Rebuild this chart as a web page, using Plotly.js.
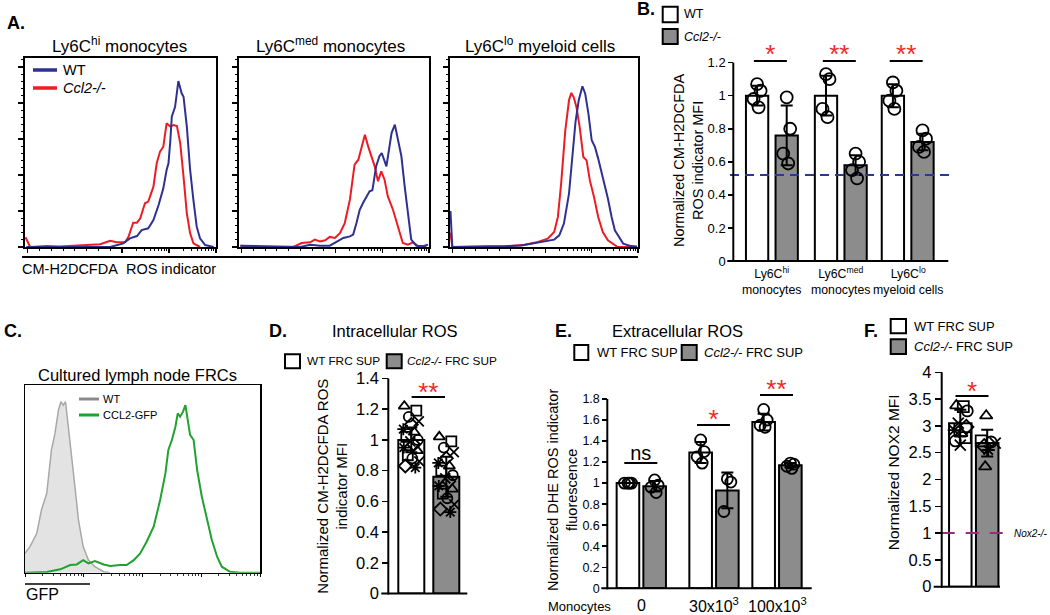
<!DOCTYPE html>
<html>
<head>
<meta charset="utf-8">
<script src="https://cdn.plot.ly/plotly-3.0.1.min.js"></script>
<style>
  html, body { margin: 0; padding: 0; background: #fff; }
  #fig { width: 1050px; height: 615px; }
</style>
</head>
<body>
<div id="fig"></div>
<script>
/* Multi-panel ROS figure (A-F) drawn as one Plotly figure with hand-placed
   axis domains. Data first, then the panels top-left to bottom-right. */

// ---------------------------------------------------------------------------
// A. CM-H2DCFDA histograms. x = log10 fluorescence, y = % of max events
// ---------------------------------------------------------------------------
var HI_WT_X = [0.97, 2.75, 3.03, 3.17, 3.32, 3.42, 3.56, 3.67, 3.78, 3.88, 3.95, 3.99, 4.03, 4.06, 4.13, 4.17, 4.20, 4.27, 4.31, 4.38, 4.45, 4.52, 4.59, 4.66, 4.77, 4.95];
var HI_WT_Y = [0, 0, 2.0, 4.8, 6.1, 9.4, 10.4, 15, 23.3, 32.6, 42.8, 46.5, 59.4, 72.4, 77.9, 87.2, 92.2, 85.4, 83.5, 66.9, 42.8, 26.1, 11.3, 4.8, 1.1, 0];
var HI_KO_X = [0.95, 1.05, 1.40, 1.68, 2.25, 2.54, 2.75, 2.89, 3.07, 3.14, 3.24, 3.32, 3.39, 3.49, 3.56, 3.67, 3.74, 3.81, 3.88, 3.95, 4.03, 4.10, 4.17, 4.24, 4.31, 4.38, 4.45, 4.52, 4.66];
var HI_KO_Y = [5.4, 0, 0.6, 0.3, 1.1, 1.5, 3.5, 2.6, 2.8, 5.7, 13.5, 13.5, 15.9, 24.3, 25.2, 33.5, 46.5, 53, 55.7, 68.7, 66.9, 67.8, 67.2, 57.6, 39, 18.7, 7.6, 2, 0];

var MED_WT_X = [0.97, 1.4, 1.8, 2.25, 2.46, 2.67, 2.88, 3.03, 3.17, 3.31, 3.38, 3.45, 3.52, 3.59, 3.66, 3.73, 3.79, 3.87, 3.94, 3.99, 4.09, 4.15, 4.20, 4.27, 4.34, 4.41, 4.48, 4.55, 4.62, 4.73, 4.87, 4.98];
var MED_WT_Y = [0.7, 0.5, 0.5, 0, 1.3, 0.7, 0.7, 3.1, 5, 5.9, 6.9, 13.3, 20.7, 24.4, 28.1, 30.9, 31.5, 44.8, 50.4, 52.2, 44.8, 54, 63.3, 68, 59.6, 50.4, 33.7, 17, 4.1, 0.7, 0.4, 1.3];
var MED_KO_X = [0.97, 1.39, 2.10, 2.28, 2.46, 2.56, 2.67, 2.78, 2.88, 2.99, 3.10, 3.20, 3.31, 3.41, 3.49, 3.56, 3.63, 3.70, 3.77, 3.84, 3.91, 3.98, 4.05, 4.12, 4.23, 4.34, 4.44, 4.55, 4.66, 4.76, 4.94];
var MED_KO_Y = [0.7, 0, 0, 2.2, 2.6, 4.1, 3.1, 3.7, 5.6, 5, 7.8, 13.3, 26.3, 45.7, 48.5, 55.9, 62.4, 55.9, 50.4, 44.8, 36.5, 42, 37.4, 28.1, 20.7, 11.5, 2.2, 1.3, 2.6, 0.7, 0];

var LO_WT_X = [0.95, 0.99, 1.77, 2.12, 2.48, 2.77, 2.98, 3.19, 3.30, 3.40, 3.51, 3.58, 3.65, 3.72, 3.77, 3.80, 3.86, 3.93, 4.00, 4.07, 4.14, 4.21, 4.28, 4.35, 4.43, 4.50, 4.54, 4.68, 4.85, 4.98];
var LO_WT_Y = [20, 0, 0.4, 0.4, 0.9, 2.2, 2.8, 4.1, 6.5, 13, 29.6, 51.9, 69.4, 81.5, 87, 89.3, 85.2, 74, 59.3, 55.6, 49.1, 41.7, 35.2, 26.9, 16.7, 9.3, 7.6, 1.9, 0.5, 0.3];
var LO_KO_X = [0.95, 0.99, 1.77, 2.12, 2.55, 2.84, 3.05, 3.19, 3.27, 3.34, 3.43, 3.51, 3.56, 3.61, 3.67, 3.74, 3.82, 3.89, 3.96, 4.05, 4.14, 4.24, 4.35, 4.46, 4.56, 4.9];
var LO_KO_Y = [8, 0, 0.2, 0.3, 1.3, 2.8, 4.6, 8.3, 16.7, 35.2, 64.8, 81.5, 85.6, 83.3, 77.8, 66.7, 50, 48.1, 37, 27.8, 16.7, 8.3, 3.7, 1.5, 0, 0];

// ---------------------------------------------------------------------------
// B. normalized CM-H2DCFDA MFI per population
// ---------------------------------------------------------------------------
var B_GROUPS = ["Ly6C<sup>hi</sup><br>monocytes", "Ly6C<sup>med</sup><br>monocytes", "Ly6C<sup>lo</sup><br>myeloid cells"];
var B_WT_MEAN = [1.0, 1.0, 1.0];
var B_WT_SD = [0.06, 0.12, 0.07];
var B_KO_MEAN = [0.76, 0.58, 0.72];
var B_KO_SD = [0.18, 0.06, 0.05];
var B_WT_PTS = [[1.07, 1.03, 0.98, 0.93], [1.13, 1.10, 0.92, 0.87], [1.08, 1.03, 0.97, 0.92]];
var B_KO_PTS = [[0.99, 0.80, 0.65, 0.59], [0.65, 0.60, 0.55, 0.50], [0.79, 0.74, 0.69, 0.66]];
var B_SIG = ["*", "**", "**"];
var B_REF = 0.52;

// ---------------------------------------------------------------------------
// C. GFP histogram of cultured FRCs (x = log10 GFP, y = % of max)
// ---------------------------------------------------------------------------
var C_WT_X = [0, 0.085, 0.2, 0.28, 0.37, 0.45, 0.51, 0.57, 0.61, 0.65, 0.69, 0.74, 0.80, 0.85, 0.91, 0.99, 1.08, 1.19, 1.34, 1.45];
var C_WT_Y = [10.3, 13.9, 21, 33.4, 42.3, 65.4, 74.2, 86.7, 91.1, 89.3, 91.1, 77.8, 61.8, 45.8, 28.1, 13.9, 6.7, 3.2, 0.5, 0];
var C_GFP_X = [0, 0.37, 0.60, 0.77, 0.88, 0.99, 1.08, 1.19, 1.34, 1.45, 1.62, 1.73, 1.85, 1.96, 2.07, 2.19, 2.30, 2.39, 2.44, 2.50, 2.56, 2.60, 2.64, 2.69, 2.73, 2.76, 2.81, 2.87, 2.93, 3.01, 3.10, 3.18, 3.27, 3.35, 3.49, 3.66, 4.0];
var C_GFP_Y = [0, 0.4, 1.8, 4.1, 4.4, 6.7, 5, 6.2, 4.4, 3.6, 4.1, 4.1, 6.7, 10.3, 16.5, 24.5, 38.7, 52.9, 65.4, 70.7, 77.8, 84.9, 83.1, 85.8, 89.3, 84, 73.4, 70.7, 54.7, 40.5, 28.1, 17.4, 8.5, 3.2, 0.5, 0, 0];

// ---------------------------------------------------------------------------
// D. intracellular ROS (WT vs Ccl2-/- FRC supernatant)
// ---------------------------------------------------------------------------
var D_MEAN = [1.0, 0.76];
var D_SD = [0.08, 0.13];
var D_WT_PTS = [1.22, 1.19, 1.15, 1.12, 1.10, 1.07, 1.05, 1.02, 1.00, 0.99, 0.97, 0.95, 0.93, 0.90, 0.88, 0.86, 0.83, 0.82];
var D_KO_PTS = [1.02, 0.99, 0.95, 0.92, 0.88, 0.85, 0.83, 0.80, 0.77, 0.75, 0.73, 0.70, 0.68, 0.65, 0.62, 0.58, 0.55, 0.53];

// ---------------------------------------------------------------------------
// E. extracellular ROS vs number of monocytes
// ---------------------------------------------------------------------------
var E_GROUPS = ["0", "30x10<sup>3</sup>", "100x10<sup>3</sup>"];
var E_WT_MEAN = [1.0, 1.29, 1.58];
var E_WT_SD = [0, 0.10, 0.08];
var E_KO_MEAN = [0.97, 0.93, 1.17];
var E_KO_SD = [0.05, 0.17, 0.02];
var E_WT_PTS = [[1.0, 1.0, 1.0, 1.0], [1.41, 1.30, 1.25, 1.19], [1.70, 1.60, 1.55, 1.53]];
var E_KO_PTS = [[1.03, 0.98, 0.96, 0.91], [1.04, 1.01, 0.73], [1.19, 1.18, 1.16, 1.14]];
var E_SIG = ["ns", "*", "**"];

// ---------------------------------------------------------------------------
// F. NOX2 MFI
// ---------------------------------------------------------------------------
var F_MEAN = [3.05, 2.68];
var F_SD = [0.25, 0.25];
var F_WT_PTS = [3.38, 3.36, 3.28, 3.05, 2.98, 2.92, 2.86, 2.78, 2.72, 2.64];
var F_KO_PTS = [3.19, 2.72, 2.70, 2.68, 2.62, 2.55, 2.24];
var F_NOX2_KO = 1.0;

// ---------------------------------------------------------------------------
var W = 1050, H = 615;
var FONT = "Liberation Sans, Arial, Helvetica, sans-serif";
var BLUE = "#2e3192";
var RED = "#ed1c24";
var STAR = "#ee2a2a";
var GREY = "#8c8c8c";

function fx(px) { return px / W; }
function fy(py) { return 1 - py / H; }
function id(n) { return n === 1 ? "" : String(n); }

var traces = [];
var shapes = [];
var annotations = [];
var layout = {
  width: W, height: H,
  margin: { l: 0, r: 0, t: 0, b: 0 },
  paper_bgcolor: "#fff", plot_bgcolor: "rgba(0,0,0,0)",
  font: { family: FONT, color: "#000" },
  showlegend: false, hovermode: false,
  barmode: "overlay",
};

function text(str, px, py, size, opts) {
  opts = opts || {};
  annotations.push({
    xref: "paper", yref: "paper", x: fx(px), y: fy(py), text: opts.bold ? "<b>" + str + "</b>" : str,
    showarrow: false, xanchor: opts.anchor || "left", yanchor: "middle",
    textangle: opts.angle || 0,
    font: { family: FONT, size: size, color: opts.color || "#000" },
  });
}
function pline(x0, y0, x1, y1, color, width, dash) {
  shapes.push({ type: "line", xref: "paper", yref: "paper", x0: fx(x0), y0: fy(y0), x1: fx(x1), y1: fy(y1),
    line: { color: color, width: width, dash: dash || "solid" } });
}
function pbox(x0, y0, x1, y1, fill) {
  shapes.push({ type: "rect", xref: "paper", yref: "paper", x0: fx(x0), y0: fy(y1), x1: fx(x1), y1: fy(y0),
    fillcolor: fill, line: { color: "#000", width: 2 } });
}

// Minor tick positions for a log-decade axis (decoration only).
function logMinors(d0, d1) {
  var out = [];
  for (var d = d0; d < d1; d++) {
    for (var k = 2; k <= 9; k++) out.push(d + Math.log10(k));
  }
  return out;
}

function line(n, xs, ys, color, width, extra) {
  var t = { type: "scatter", mode: "lines", x: xs, y: ys, xaxis: "x" + id(n), yaxis: "y" + id(n),
    line: { color: color, width: width }, hoverinfo: "skip" };
  for (var k in extra || {}) t[k] = extra[k];
  traces.push(t);
}

// ---------------------------------------------------------------------------
// Panel A
// ---------------------------------------------------------------------------
function histAxes(n, left, right, top, bottom) {
  var lin = [];
  for (var v = 1.25; v < 3; v += 0.25) lin.push(v);
  layout["xaxis" + id(n)] = {
    domain: [fx(left), fx(right)], range: [0.94, 5.0], anchor: "y" + id(n),
    showline: true, mirror: true, linecolor: "#000", linewidth: 2,
    showgrid: false, zeroline: false, showticklabels: false,
    ticks: "outside", tickmode: "array", tickvals: [1, 3, 4, 5], ticklen: 4, tickwidth: 1.2, tickcolor: "#000",
    minor: { tickmode: "array", tickvals: lin.concat(logMinors(3, 5)), ticks: "outside", ticklen: 2, tickwidth: 1, tickcolor: "#000", showgrid: false },
  };
  layout["yaxis" + id(n)] = {
    domain: [fy(bottom), fy(top)], range: [0, 105], anchor: "x" + id(n),
    showline: true, mirror: true, linecolor: "#000", linewidth: 2,
    showgrid: false, zeroline: false, showticklabels: false,
    ticks: "outside", dtick: 20, ticklen: 5, tickwidth: 1.2, tickcolor: "#000",
    minor: { dtick: 4, ticks: "outside", ticklen: 2.5, tickwidth: 1, tickcolor: "#000", showgrid: false },
  };
}
histAxes(1, 25, 216, 58, 247);
histAxes(2, 239, 429, 58, 247);
histAxes(3, 450, 638, 58, 247);

line(1, HI_KO_X, HI_KO_Y, RED, 2);
line(1, HI_WT_X, HI_WT_Y, BLUE, 2);
line(2, MED_KO_X, MED_KO_Y, RED, 2);
line(2, MED_WT_X, MED_WT_Y, BLUE, 2);
line(3, LO_KO_X, LO_KO_Y, RED, 2);
line(3, LO_WT_X, LO_WT_Y, BLUE, 2);

text("A.", 5, 23, 18, { bold: true });
text("Ly6C<sup>hi</sup> monocytes", 119, 45, 17, { anchor: "center" });
text("Ly6C<sup>med</sup> monocytes", 330, 45, 17, { anchor: "center" });
text("Ly6C<sup>lo</sup> myeloid cells", 540, 45, 17, { anchor: "center" });
pline(33, 70, 57, 70, BLUE, 3.5);
pline(33, 88, 57, 88, RED, 3.5);
text("WT", 61, 70, 14.5);
text("<i>Ccl2-/-</i>", 61, 88, 14.5);
pline(22, 257, 638, 257, "#000", 2);
text("CM-H2DCFDA&nbsp; ROS indicator", 20, 269, 14.5);

// ---------------------------------------------------------------------------
// Bar panels helper: x units are pixels measured from the y axis line.
// ---------------------------------------------------------------------------
var JIT = [0, 3.5, -3.5, 1.5, -1.5, 5, -5];
var JIT_WIDE = [-7, 5, -2.5, 7.5, 0, -8, 3, -5, 6.5, -1, 2.5, -7.5, 6, -3.5, 1, 8, -6, 4];
var SHAPES = ["triangle-up-open", "square-open", "circle-open", "x-thin-open", "diamond-open", "asterisk-open"];

function barAxes(n, cfg) {
  var left = cfg.axisPx + cfg.xMin, right = cfg.axisPx + cfg.xMax;
  var top = cfg.bottomPx - cfg.yMax * cfg.pxPerUnit;
  layout["xaxis" + id(n)] = {
    domain: [fx(left), fx(right)], range: [cfg.xMin, cfg.xMax], anchor: "y" + id(n),
    showline: false, showgrid: false, zeroline: false, showticklabels: false, ticks: "",
  };
  layout["yaxis" + id(n)] = {
    domain: [fy(cfg.bottomPx), fy(top)], range: [0, cfg.yMax], anchor: "free", position: fx(cfg.axisPx),
    showline: false, showgrid: false, zeroline: false,
    tickmode: "array", tickvals: cfg.tickvals, ticks: "outside", ticklen: cfg.tickLen, tickwidth: 1.5, tickcolor: "#000",
    tickfont: { family: FONT, size: cfg.tickFont, color: "#000" },
  };
  // axis lines
  var yTopPx = cfg.bottomPx - cfg.tickvals[cfg.tickvals.length - 1] * cfg.pxPerUnit;
  pline(cfg.axisPx, cfg.bottomPx + 1, cfg.axisPx, yTopPx, "#000", 2);
  pline(cfg.axisPx - cfg.tickLen - 1, cfg.bottomPx, cfg.axisPx + cfg.xAxisEnd, cfg.bottomPx, "#000", 2);
}

function bars(n, xs, means, sds, fill, width) {
  traces.push({
    type: "bar", x: xs, y: means, width: width, xaxis: "x" + id(n), yaxis: "y" + id(n),
    marker: { color: fill, line: { color: "#000", width: 2 } },
    error_y: { type: "data", array: sds, visible: true, color: "#000", thickness: 2, width: 6 },
    hoverinfo: "skip",
  });
}

function points(n, xc, vals, jit, symbolFn, size) {
  traces.push({
    type: "scatter", mode: "markers", xaxis: "x" + id(n), yaxis: "y" + id(n),
    x: vals.map(function (v, i) { return xc + jit[i % jit.length]; }),
    y: vals,
    marker: { symbol: vals.map(symbolFn), size: size, color: "#000", line: { color: "#000", width: 1.8 } },
    cliponaxis: false, hoverinfo: "skip",
  });
}

function sig(n, xc, half, yLine, yText, label, color, size) {
  line(n, [xc - half, xc + half], [yLine, yLine], "#000", 2, { cliponaxis: false });
  traces.push({
    type: "scatter", mode: "text", x: [xc], y: [yText], text: [label], xaxis: "x" + id(n), yaxis: "y" + id(n),
    textposition: "middle center", textfont: { family: FONT, size: size, color: color },
    cliponaxis: false, hoverinfo: "skip",
  });
}

function circle() { return "circle-open"; }
function cycled(v, i) { return SHAPES[i % SHAPES.length]; }

// ---------------------------------------------------------------------------
// Panel B
// ---------------------------------------------------------------------------
var B_X = [38.6, 107.5, 174.4], B_OFF = 14.8;
barAxes(4, { axisPx: 733.3, bottomPx: 261, pxPerUnit: 165.3, yMax: 1.35, xMin: -8, xMax: 224, xAxisEnd: 215,
  tickvals: [0, 0.2, 0.4, 0.6, 0.8, 1, 1.2], tickFont: 13, tickLen: 5 });
var bWtX = B_X.map(function (c) { return c - B_OFF; });
var bKoX = B_X.map(function (c) { return c + B_OFF; });
bars(4, bWtX, B_WT_MEAN, B_WT_SD, "#fff", 22.3);
bars(4, bKoX, B_KO_MEAN, B_KO_SD, GREY, 22.3);
line(4, [-3.3, 216.7], [B_REF, B_REF], "#2b3990", 2, { line: { color: "#2b3990", width: 2, dash: "9px,6px" } });
B_X.forEach(function (c, g) {
  points(4, bWtX[g], B_WT_PTS[g], JIT, circle, 12);
  points(4, bKoX[g], B_KO_PTS[g], JIT, circle, 12);
  sig(4, c - 1.5, 16.5, 1.21, 1.235, B_SIG[g], STAR, 26);
  annotations.push({ xref: "x4", yref: "paper", x: c, y: fy(263), yanchor: "top", xanchor: "center",
    text: B_GROUPS[g], showarrow: false, font: { family: FONT, size: 12.3 } });
});
text("B.", 635, 9, 18, { bold: true });
pbox(662.7, 6.7, 677.7, 22.3, "#fff");
pbox(662.7, 29, 677.7, 44, GREY);
text("WT", 682, 14.5, 12.5);
text("<i>Ccl2-/-</i>", 682, 37, 12.5);
text("Normalized CM-H2DCFDA<br>ROS indicator MFI", 688, 160, 14.5, { anchor: "center", angle: -90 });

// ---------------------------------------------------------------------------
// Panel C
// ---------------------------------------------------------------------------
layout.xaxis5 = {
  domain: [fx(25), fx(260)], range: [0, 4], anchor: "y5",
  showline: true, mirror: true, linecolor: "#000", linewidth: 1.5,
  showgrid: false, zeroline: false, showticklabels: false,
  ticks: "outside", tickmode: "array", tickvals: [0, 1, 2, 3, 4], ticklen: 3, tickwidth: 1, tickcolor: "#000",
  minor: { tickmode: "array", tickvals: logMinors(0, 4), ticks: "outside", ticklen: 1.5, tickwidth: 0.8, tickcolor: "#000", showgrid: false },
};
layout.yaxis5 = {
  domain: [fy(572.7), fy(385)], range: [0, 100], anchor: "x5",
  showline: true, mirror: true, linecolor: "#000", linewidth: 1.5,
  showgrid: false, zeroline: false, showticklabels: false, ticks: "",
};
line(5, C_WT_X, C_WT_Y, "#a8a8a8", 1.5, { fill: "tozeroy", fillcolor: "#e3e3e3" });
line(5, C_GFP_X, C_GFP_Y, "#1fa22e", 2);
text("C.", 2, 331, 18, { bold: true });
text("Cultured lymph node FRCs", 137.5, 375, 16.5, { anchor: "center" });
pline(79, 399, 99, 399, "#8a8a8a", 3);
pline(79, 415, 99, 415, "#1fa22e", 3);
text("WT", 101, 399, 11);
text("CCL2-GFP", 101, 415, 11);
pline(25, 584, 90, 584, "#000", 1.5);
text("GFP", 24, 594, 16);

// ---------------------------------------------------------------------------
// Panel D
// ---------------------------------------------------------------------------
barAxes(6, { axisPx: 388.3, bottomPx: 593.5, pxPerUnit: 153.6, yMax: 1.45, xMin: -8, xMax: 80, xAxisEnd: 79,
  tickvals: [0, 0.2, 0.4, 0.6, 0.8, 1, 1.2, 1.4], tickFont: 16.5, tickLen: 6 });
bars(6, [23, 58], D_MEAN, D_SD, ["#fff", GREY], 26);
points(6, 23, D_WT_PTS, JIT_WIDE, cycled, 10);
points(6, 58, D_KO_PTS, JIT_WIDE, cycled, 10);
sig(6, 40, 16.7, 1.28, 1.295, "**", STAR, 26);
text("D.", 267, 331, 18, { bold: true });
text("Intracellular ROS", 394.5, 331, 16.5, { anchor: "center" });
pbox(285, 354.3, 300, 368.3, "#fff");
pbox(386.7, 354.3, 401.7, 368.3, GREY);
text("WT FRC SUP", 305, 361.3, 11.8);
text("<i>Ccl2-/-</i> FRC SUP", 405, 361.3, 11.8);
text("Normalized CM-H2DCFDA ROS<br>indicator MFI", 331.7, 486, 15, { anchor: "center", angle: -90 });

// ---------------------------------------------------------------------------
// Panel E
// ---------------------------------------------------------------------------
var E_X = [34, 106.7, 169.7], E_OFF = 13.35;
barAxes(7, { axisPx: 607.3, bottomPx: 588.3, pxPerUnit: 105.2, yMax: 2.0, xMin: -8, xMax: 206, xAxisEnd: 204.4,
  tickvals: [0, 0.2, 0.4, 0.6, 0.8, 1, 1.2, 1.4, 1.6, 1.8], tickFont: 12.5, tickLen: 5 });
var eWtX = E_X.map(function (c) { return c - E_OFF; });
var eKoX = E_X.map(function (c) { return c + E_OFF; });
bars(7, eWtX, E_WT_MEAN, E_WT_SD, "#fff", 22.6);
bars(7, eKoX, E_KO_MEAN, E_KO_SD, GREY, 22.6);
var E_LINE = [1.19, 1.553, 1.838], E_TXT = [1.265, 1.585, 1.87];
E_X.forEach(function (c, g) {
  points(7, eWtX[g], E_WT_PTS[g], JIT, circle, 11);
  points(7, eKoX[g], E_KO_PTS[g], JIT, circle, 11);
  sig(7, c - 0.5, 16.5, E_LINE[g], E_TXT[g], E_SIG[g], g === 0 ? "#000" : STAR, g === 0 ? 20 : 26);
  annotations.push({ xref: "x7", yref: "paper", x: c, y: fy(605), yanchor: "middle", xanchor: "center",
    text: E_GROUPS[g], showarrow: false, font: { family: FONT, size: 16 } });
});
text("Monocytes", 579, 606, 13, { anchor: "center" });
text("E.", 553, 331, 18, { bold: true });
text("Extracellular ROS", 677.5, 331, 16.5, { anchor: "center" });
pbox(574.3, 345, 588.3, 360, "#fff");
pbox(681.7, 345, 696.7, 360, GREY);
text("WT FRC SUP", 595, 352.5, 13);
text("<i>Ccl2-/-</i> FRC SUP", 702, 352.5, 13);
text("Normalized DHE ROS indicator<br>fluorescence", 562, 490, 14.5, { anchor: "center", angle: -90 });

// ---------------------------------------------------------------------------
// Panel F
// ---------------------------------------------------------------------------
barAxes(8, { axisPx: 941.7, bottomPx: 586.7, pxPerUnit: 53.6, yMax: 4.1, xMin: -9, xMax: 68, xAxisEnd: 58.3,
  tickvals: [0, 0.5, 1, 1.5, 2, 2.5, 3, 3.5, 4], tickFont: 16.5, tickLen: 7 });
bars(8, [18.6, 45.5], F_MEAN, F_SD, ["#fff", GREY], 22.5);
line(8, [0, 66.6], [F_NOX2_KO, F_NOX2_KO], "#9e2a7d", 2, { cliponaxis: false, line: { color: "#9e2a7d", width: 2, dash: "13px,11px" } });
points(8, 18.6, F_WT_PTS, [-4, 3, 7, -2, 6, -6, 1, 5, -5, 0], cycled, 11);
points(8, 45.5, F_KO_PTS, [-1, -6, 4, 8, -3, 1, -2], cycled, 11);
sig(8, 30.3, 16.5, 3.56, 3.60, "*", STAR, 26);
text("<i>Nox2-/-</i>", 1012, 533.3, 10);
text("F.", 862, 331, 18, { bold: true });
pbox(890.7, 319, 906, 333.3, "#fff");
pbox(890.7, 339.3, 906, 354, GREY);
text("WT FRC SUP", 912, 326.5, 13);
text("<i>Ccl2-/-</i> FRC SUP", 912, 346.7, 13);
text("Normalized NOX2 MFI", 893.3, 472, 15.5, { anchor: "center", angle: -90 });

layout.shapes = shapes;
layout.annotations = annotations;
Plotly.newPlot("fig", traces, layout, { displayModeBar: false, staticPlot: true });
</script>
</body>
</html>
